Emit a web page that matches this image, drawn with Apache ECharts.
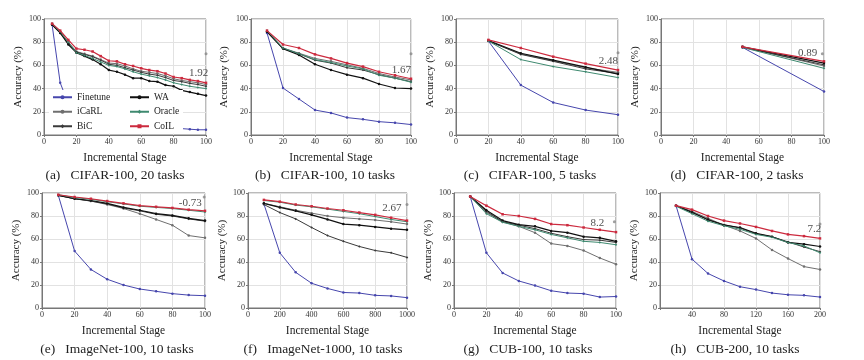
<!DOCTYPE html>
<html><head><meta charset="utf-8">
<script src="https://cdn.jsdelivr.net/npm/echarts@6/dist/echarts.min.js"></script>
<style>html,body{margin:0;padding:0;background:#fff}#c{width:864px;height:360px}</style>
</head><body><div id="c"></div>
<script>
const seriesNames = ['Finetune','iCaRL','BiC','WA','Oracle','CoIL'];
const panelTitles = ['(a)   CIFAR-100, 20 tasks','(b)   CIFAR-100, 10 tasks','(c)   CIFAR-100, 5 tasks','(d)   CIFAR-100, 2 tasks',
  '(e)   ImageNet-100, 10 tasks','(f)   ImageNet-1000, 10 tasks','(g)   CUB-100, 10 tasks','(h)   CUB-200, 10 tasks'];
const xTickMax = [100,100,100,100,100,1000,100,200];
const xTickStep = [20,20,20,20,20,200,20,40];
const yTicks = [0,20,40,60,80,100];

// (a) CIFAR-100, 20 tasks
const aX = [5,10,15,20,25,30,35,40,45,50,55,60,65,70,75,80,85,90,95,100];
const aFinetune = [95,45,27,20,16,13.5,12,11,10,9.5,9,8.5,8,7.5,7,6.5,5.5,5,4.5,4.5];
const aICaRL = [96,89,80,72,70,68,65,62,61.5,59.5,57,55,54,53,51,48.5,47,46,45,43.5];
const aBiC = [95,88,79,71.5,69.5,67.5,64.5,61,60,58,56,54,52.5,51.5,49.5,47,46,44.5,43.5,42];
const aWA = [95,88,78,71,68,65,61,56,54.5,52,49,49,46.5,46,43,42,38.5,37,35.5,34];
const aOracle = [96,89,80,71,68.5,66,63,60,59,57,54.5,52.5,51,49.5,47.5,45,43.5,42,41,40];
const aCoIL = [96,90,82,74.5,73.5,72,68,64,63.5,61,59.5,57.5,56,55,53,50,49,47.5,46.5,45];
// (b) CIFAR-100, 10 tasks
const bX = [10,20,30,40,50,60,70,80,90,100];
const bFinetune = [88,40.5,31,21.5,19,15,13.5,11.5,10.5,9];
const bICaRL = [89,75,70.5,66,63.5,60.5,57.5,53,50,47.5];
const bBiC = [89,74.5,70,64.5,62,58,56,52,49,46];
const bWA = [89,74.5,69,61,56,52,49,44,40.5,40];
const bOracle = [90,75,70,65,62.5,59.5,57,51.5,49,45.5];
const bCoIL = [90,78,75,69.5,66,62,59,54.5,51.5,48.5];
// (c) CIFAR-100, 5 tasks
const cX = [20,40,60,80,100];
const cFinetune = [81,43,28,21.5,17.5];
const cICaRL = [81,70,64,58,54];
const cBiC = [81,69.5,63.5,57,53];
const cWA = [81.5,70.5,64.5,58.5,52.5];
const cOracle = [81,65,59,54.5,49.5];
const cCoIL = [82,75,67.5,61.5,56];
// (d) CIFAR-100, 2 tasks
const dX = [50,100];
const dFinetune = [75.5,37.5];
const dICaRL = [76,59.5];
const dBiC = [75.5,60.5];
const dWA = [76,62];
const dOracle = [75.5,57.5];
const dCoIL = [76,63.5];
// (e) ImageNet-100, 10 tasks
const eX = [10,20,30,40,50,60,70,80,90,100];
const eFinetune = [98,49.5,33.5,25,20,16.5,14.5,12.5,11.2,10.7];
const eICaRL = [98,95,93,90,86.5,82,77,72,63,61];
const eBiC = [98,95,93,90.5,87,84.5,81.5,80,77.5,75.5];
const eWA = [98,95,93.5,91,87.5,85,82,80.5,78,76];
const eOracle = [98.5,96,94.5,92.5,90.5,88.5,87.5,86.5,85,83.5];
const eCoIL = [98.5,96.5,95,93,91,89,88,87,85.5,84.5];
// (f) ImageNet-1000, 10 tasks
const fX = [100,200,300,400,500,600,700,800,900,1000];
const fFinetune = [90.5,48,31,21.5,17,13.5,13,11,10.5,9];
const fICaRL = [91,88,85,82.5,80,78.5,77.5,76.5,75,73];
const fBiC = [90,83,77.5,70,63,58,53.5,50,48,44];
const fWA = [91,87.5,84.5,81,77,73,72,70.5,69,68];
const fOracle = [93.5,92,89.5,88,86,84,82,79.5,77,75];
const fCoIL = [94,92.5,90,88.5,86.5,85,83,81,78.5,76];
// (g) CUB-100, 10 tasks
const gX = [10,20,30,40,50,60,70,80,90,100];
const gFinetune = [97,48,30.5,23.5,19.5,15,13,12.5,9.5,10];
const gICaRL = [97,83,75,71,65.5,56,54,50,43.5,38];
const gBiC = [97,84,75,72,69,65,62,59.5,59,57];
const gWA = [97,85,76,72.5,71,67,65.5,62,61,58];
const gOracle = [97,82,74.5,71,68,64,61,58,57,55];
const gCoIL = [97,89,81.5,80,77.5,73,72,70,68,66];
// (h) CUB-200, 10 tasks
const hX = [20,40,60,80,100,120,140,160,180,200];
const hFinetune = [89,42.5,30,23.5,18.5,16,13,11.5,11,9.5];
const hICaRL = [89,84,78,72,67,60.5,50.5,43,36,33.5];
const hBiC = [89,83.5,76.5,72.5,69.5,64.5,62,57.5,53,49];
const hWA = [89,83,77,72,70,65,62,57,55.5,53.5];
const hOracle = [88.5,82,75.5,71.5,68.5,64,61.5,57,54,48];
const hCoIL = [89,85.5,80,76,73.5,70.5,67,64,62.5,60.5];

// annotations: gap labels and their markers
const annoText = ['1.92','1.67','2.48','0.89','-0.73','2.67','8.2','7.2'];
const annoTextX = [95.5,94,94,90,91,905,88.5,193];
const annoTextY = [53.5,56,64,71,91.5,86.5,74,68.6];
const annoMarkX = [100,100,100,99,99.5,1000,99,200];
const annoMarkY = [70,70,71,70,96.5,90,75,73];

const panelX = [aX,bX,cX,dX,eX,fX,gX,hX];
const panelVals = [
  [aFinetune,aICaRL,aBiC,aWA,aOracle,aCoIL],
  [bFinetune,bICaRL,bBiC,bWA,bOracle,bCoIL],
  [cFinetune,cICaRL,cBiC,cWA,cOracle,cCoIL],
  [dFinetune,dICaRL,dBiC,dWA,dOracle,dCoIL],
  [eFinetune,eICaRL,eBiC,eWA,eOracle,eCoIL],
  [fFinetune,fICaRL,fBiC,fWA,fOracle,fCoIL],
  [gFinetune,gICaRL,gBiC,gWA,gOracle,gCoIL],
  [hFinetune,hICaRL,hBiC,hWA,hOracle,hCoIL]
];

// layout (pixels)
const layout = [
  {l:44,r:206,t:19,b:135,tx:110,ty:163,gap:20},
  {l:251,r:411,t:19,b:135,tx:320,ty:163,gap:21},
  {l:456,r:618,t:19,b:135,tx:525,ty:163,gap:20},
  {l:661,r:824,t:19,b:135,tx:732,ty:163,gap:20},
  {l:42,r:205,t:193,b:308,tx:112,ty:337,gap:20},
  {l:248,r:407,t:193,b:308,tx:318,ty:337,gap:20},
  {l:454,r:616,t:193,b:308,tx:523,ty:337,gap:20},
  {l:660,r:820,t:193,b:308,tx:730,ty:337,gap:20}
];
const colors = {Finetune:'#4646ad', iCaRL:'#6f6f6f', BiC:'#3a3a3a', WA:'#111111', Oracle:'#3f8a70', CoIL:'#cc2a3e'};
const symbols = {Finetune:'circle', iCaRL:'circle', BiC:'diamond', WA:'circle', Oracle:'diamond', CoIL:'rect'};
const widths = {Finetune:1, iCaRL:1, BiC:1, WA:1.2, Oracle:1, CoIL:1.2};
const FONT = '"Liberation Serif", "DejaVu Serif", serif';

const grid = [], xAxis = [], yAxis = [], series = [], title = [];
layout.forEach((p, i) => {
  grid.push({left:p.l, top:p.t, width:p.r-p.l, height:p.b-p.t, show:true, borderColor:'#777', borderWidth:1, backgroundColor:'#fff'});
  xAxis.push({type:'value', gridIndex:i, min:0, max:xTickMax[i], interval:xTickStep[i],
    name:'Incremental Stage', nameLocation:'middle', nameGap:17,
    nameTextStyle:{fontFamily:FONT, fontSize:11.5, color:'#222'},
    axisLine:{show:true, lineStyle:{color:'#777'}}, axisTick:{show:true, length:2, lineStyle:{color:'#777'}},
    axisLabel:{fontFamily:FONT, fontSize:8, color:'#333', margin:3,
      formatter: v => (i === 7 && v === 0) ? '' : String(v)},
    splitLine:{show:true, lineStyle:{color:'#e2e2e2', width:1}}});
  yAxis.push({type:'value', gridIndex:i, min:yTicks[0], max:yTicks[yTicks.length-1], interval:20,
    name:'Accuracy (%)', nameLocation:'middle', nameGap:p.gap,
    nameTextStyle:{fontFamily:FONT, fontSize:11, color:'#222'},
    axisLine:{show:true, lineStyle:{color:'#777'}}, axisTick:{show:true, length:2, lineStyle:{color:'#777'}},
    axisLabel:{fontFamily:FONT, fontSize:8, color:'#333', margin:3},
    splitLine:{show:true, lineStyle:{color:'#e2e2e2', width:1}}});
  title.push({text:panelTitles[i], left:p.tx, top:p.ty, textAlign:'center',
    textStyle:{fontFamily:FONT, fontSize:13.5, fontWeight:'normal', color:'#222'}});
  seriesNames.forEach((n, k) => {
    series.push({type:'line', name:n, xAxisIndex:i, yAxisIndex:i,
      data: panelX[i].map((x, j) => [x, panelVals[i][k][j]]),
      symbol:symbols[n], symbolSize:2.5, showSymbol:true,
      lineStyle:{color:colors[n], width:widths[n]}, itemStyle:{color:colors[n]},
      z: n === 'CoIL' ? 3 : 2});
  });
  series.push({type:'scatter', name:'mark'+i, xAxisIndex:i, yAxisIndex:i,
    data:[[annoMarkX[i], annoMarkY[i]]], symbol:'circle', symbolSize:3, itemStyle:{color:'#888'}, z:3});
  series.push({type:'scatter', name:'text'+i, xAxisIndex:i, yAxisIndex:i,
    data:[[annoTextX[i], annoTextY[i]]], symbolSize:0,
    label:{show:true, position:'inside', formatter: () => annoText[i], fontFamily:FONT, fontSize:11, color:'#222'}, z:3});
});

const col1 = {fontFamily:FONT, fontSize:9.5, color:'#222', width:50, lineHeight:12.5};
const col2 = {fontFamily:FONT, fontSize:9.5, color:'#222', width:26, lineHeight:12.5};
const chart = echarts.init(document.getElementById('c'), null, {renderer:'canvas'});
chart.setOption({
  animation:false,
  backgroundColor:'#fff',
  title, grid, xAxis, yAxis, series,
  legend:{data:[{name:'Finetune',textStyle:col1},{name:'WA',textStyle:col2},{name:'iCaRL',textStyle:col1},
      {name:'Oracle',textStyle:col2},{name:'BiC',textStyle:col1},{name:'CoIL',textStyle:col2}],
    left:49, top:90, width:140,
    orient:'horizontal', itemWidth:19, itemHeight:5, itemGap:2, padding:[1,3,1,3],
    backgroundColor:'#fff', selectedMode:false,
    textStyle:col1}
});
</script>
</body></html>
